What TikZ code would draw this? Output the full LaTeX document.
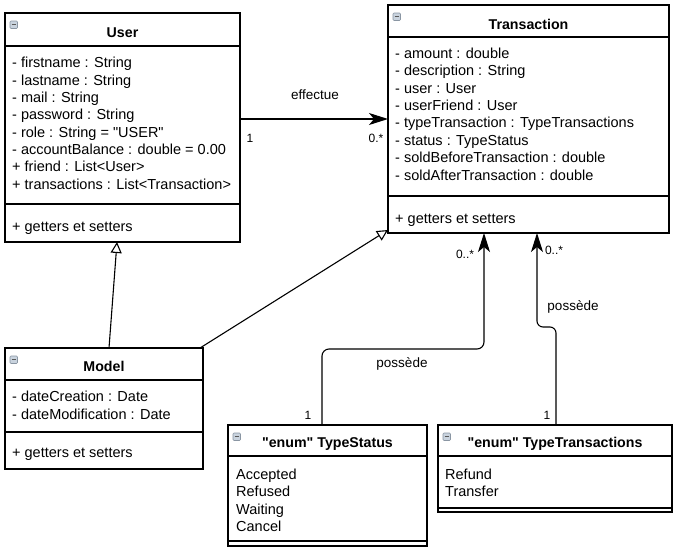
\documentclass[tikz,border=0pt]{standalone}
\usepackage{fontspec}
\setmainfont{Liberation Sans}[Ligatures=TeXOff]
\usetikzlibrary{arrows.meta}
\definecolor{iconfill}{HTML}{C9D3DE}
\definecolor{iconline}{HTML}{8A96A3}
\tikzset{
 box/.style={draw=black, line width=1.1pt, fill=white, rectangle, anchor=north west, inner sep=0pt, outer sep=0pt},
 sepline/.style={line width=1.1pt},
 ttl/.style={font=\bfseries\fontsize{14.2}{17}\selectfont, anchor=base, inner sep=0pt},
 attr/.style={font=\fontsize{14.5}{17.4}\selectfont, anchor=base west, inner sep=0pt},
 lbl/.style={font=\fontsize{13.5}{16}\selectfont, inner sep=0pt},
 mult/.style={font=\fontsize{12}{14}\selectfont, inner sep=0pt},
 conn/.style={line width=1.1pt},
 assoc/.style={conn, -{Stealth[length=19pt,width=12pt,inset=5pt]}},
 inherit/.style={conn, -{Triangle[open,length=11pt,width=11pt,fill=white]}},
 icon/.style={draw=iconline, fill=iconfill, line width=0.6pt, rounded corners=1pt},
}
\begin{document}
\begin{tikzpicture}[x=1pt,y=-1pt]
\useasboundingbox (0,0) rectangle (677,552);
\fill[white] (0,0) rectangle (677,552);

% boxes
\node[box, minimum width=235pt, minimum height=229pt] (user) at (5,13) {};
\node[box, minimum width=281pt, minimum height=228pt] (trans) at (388,5) {};
\node[box, minimum width=198pt, minimum height=121pt] (model) at (5,348) {};
\node[box, minimum width=199pt, minimum height=121pt] (ts) at (228,425) {};
\node[box, minimum width=234pt, minimum height=87pt] (tt) at (438,425) {};

% compartments
\draw[sepline] ([yshift=-33pt]user.north west) -- ([yshift=-33pt]user.north east);
\draw[sepline] ([yshift=-191pt]user.north west) -- ([yshift=-191pt]user.north east);
\draw[sepline] ([yshift=-32pt]trans.north west) -- ([yshift=-32pt]trans.north east);
\draw[sepline] ([yshift=-191pt]trans.north west) -- ([yshift=-191pt]trans.north east);
\draw[sepline] ([yshift=-32pt]model.north west) -- ([yshift=-32pt]model.north east);
\draw[sepline] ([yshift=-84pt]model.north west) -- ([yshift=-84pt]model.north east);
\draw[sepline] ([yshift=-31pt]ts.north west) -- ([yshift=-31pt]ts.north east);
\draw[sepline] ([yshift=-116pt]ts.north west) -- ([yshift=-116pt]ts.north east);
\draw[sepline] ([yshift=-31pt]tt.north west) -- ([yshift=-31pt]tt.north east);
\draw[sepline] ([yshift=-83pt]tt.north west) -- ([yshift=-83pt]tt.north east);

% collapse icons
\foreach \b in {user,trans,model,ts,tt}{
  \draw[icon] ([xshift=5pt,yshift=-8pt]\b.north west) rectangle ++(7.5,7.5);
  \draw[line width=1pt, black!65] ([xshift=6.7pt,yshift=-11.75pt]\b.north west) -- ++(4.1,0);
}

% titles
\node[ttl] (userT) at (122.5,37.8) {User};
\node[ttl] (transT) at (528.5,29) {Transaction};
\node[ttl] (modelT) at (104,371) {Model};
\node[ttl] (tsT) at (327.5,447.6) {"enum" TypeStatus};
\node[ttl] (ttT) at (555,447.6) {"enum" TypeTransactions};

% User attributes
\foreach \t [count=\i] in {- firstname : String, - lastname : String, - mail : String, - password : String, - role : String = "USER", - accountBalance : double = 0.00, + friend : List<User>, + transactions : List<Transaction>}
  \node[attr] (ua\i) at (12,{67.7+17.35*(\i-1)}) {\t};
\node[attr] (um) at (12,231) {+ getters et setters};

% Transaction attributes
\foreach \t [count=\i] in {- amount : double, - description : String, - user : User, - userFriend : User, - typeTransaction : TypeTransactions, - status : TypeStatus, - soldBeforeTransaction : double, - soldAfterTransaction : double}
  \node[attr] (ta\i) at (395,{58.3+17.4*(\i-1)}) {\t};
\node[attr] (tm) at (395,223.3) {+ getters et setters};

% Model attributes
\node[attr] (ma1) at (12,401.7) {- dateCreation : Date};
\node[attr] (ma2) at (12,419.1) {- dateModification : Date};
\node[attr] (mm) at (12,457.7) {+ getters et setters};

% enum values
\foreach \t [count=\i] in {Accepted, Refused, Waiting, Cancel}
  \node[attr] (tsv\i) at (236,{479.3+17.35*(\i-1)}) {\t};
\foreach \t [count=\i] in {Refund, Transfer}
  \node[attr] (ttv\i) at (445,{479.3+17.35*(\i-1)}) {\t};

% connectors
\draw[assoc] ([yshift=-106pt]user.north east) -- ([yshift=-114pt]trans.north west);
\draw[inherit] ([xshift=104pt]model.north west) -- ([xshift=112pt]user.south west);
\draw[inherit] ([xshift=-3pt]model.north east) -- ([yshift=3pt]trans.south west);
\draw[assoc, rounded corners=7pt] ([xshift=94pt]ts.north west) -- ++(0,-76) -| ([xshift=96pt]trans.south west);
\draw[assoc, rounded corners=6pt] ([xshift=118pt]tt.north west) -- ++(0,-98) -| ([xshift=149pt]trans.south west);

% connector labels
\node[lbl] (l1) at (315,95) {effectue};
\node[mult] (m1) at (250,138) {1};
\node[mult] (m2) at (376,138) {0.*};
\node[mult] (m3) at (465,254) {0..*};
\node[lbl] (l2) at (402,364) {possède};
\node[mult] (m4) at (308,415) {1};
\node[mult] (m5) at (554,250) {0..*};
\node[lbl] (l3) at (573,307) {possède};
\node[mult] (m6) at (547,415) {1};
\end{tikzpicture}
\end{document}
